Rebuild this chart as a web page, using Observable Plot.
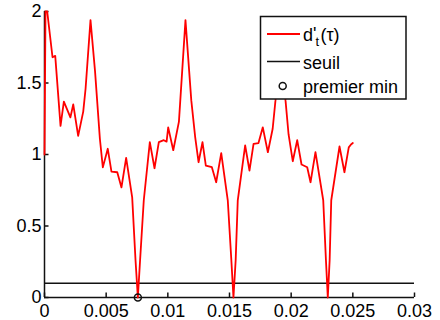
<!DOCTYPE html>
<html><head><meta charset="utf-8">
<script src="https://cdn.jsdelivr.net/npm/d3@7"></script>
<script src="https://cdn.jsdelivr.net/npm/@observablehq/plot@0.6"></script>
<style>body{margin:0;background:#fff} #chart{position:relative;width:440px;height:320px} #legend{position:absolute;left:0;top:0}</style>
</head><body><div id="chart"></div>
<script>
const tau = [0, 0.00008, 0.00022, 0.00065, 0.00087, 0.0013, 0.00157, 0.0021, 0.00233, 0.00273, 0.00314, 0.00333, 0.00373, 0.0041, 0.00449, 0.00473, 0.00513, 0.00543, 0.0059, 0.00624, 0.00662, 0.00711, 0.00738, 0.00757, 0.00775, 0.00805, 0.00854, 0.00892, 0.00927, 0.00967, 0.0099, 0.01003, 0.01044, 0.0109, 0.01143, 0.0119, 0.01222, 0.01249, 0.01281, 0.01308, 0.01357, 0.01392, 0.01433, 0.01486, 0.01515, 0.01532, 0.0155, 0.01567, 0.01627, 0.01662, 0.01695, 0.01735, 0.0177, 0.01811, 0.0185, 0.01873, 0.01914, 0.01954, 0.01979, 0.02013, 0.02049, 0.02084, 0.0213, 0.02157, 0.02197, 0.0226, 0.02282, 0.02297, 0.02312, 0.02325, 0.02392, 0.02432, 0.02467, 0.02485, 0.025];
const dprime = [1.0, 2.0, 2.0, 1.68, 1.69, 1.20, 1.37, 1.26, 1.35, 1.13, 1.30, 1.46, 1.94, 1.58, 1.11, 0.91, 1.04, 0.88, 0.876, 0.77, 0.977, 0.70, 0.26, 0, 0.26, 0.68, 1.086, 0.904, 1.086, 1.10, 1.09, 1.19, 1.03, 1.23, 1.94, 1.38, 1.12, 0.946, 1.086, 0.923, 0.911, 0.806, 1.01, 0.68, 0.26, 0, 0.26, 0.68, 1.063, 0.888, 1.075, 1.08, 1.19, 1.016, 1.18, 1.38, 1.93, 1.38, 1.14, 0.953, 1.10, 0.93, 0.911, 0.806, 1.016, 0.68, 0.26, 0, 0.26, 0.68, 1.056, 0.876, 1.05, 1.07, 1.08];
const threshold = 0.1;
const firstMin = [{t: 0.00757, v: 0}];
const xTicks = [0, 0.005, 0.01, 0.015, 0.02, 0.025, 0.03];
const xTickLabels = ["0", "0.005", "0.01", "0.015", "0.02", "0.025", "0.03"];
const yTicks = [0, 0.5, 1, 1.5, 2];
const yTickLabels = ["0", "0.5", "1", "1.5", "2"];
const legendSeuil = "seuil";
const legendMin = "premier min";

const curve = tau.map((t, i) => ({t, v: dprime[i]}));
const W = 440, H = 320, mL = 44, mR = 26, mT = 11, mB = 23;
const plotH = H - mT - mB, plotW = W - mL - mR;
const font = "'Liberation Sans', Arial, Helvetica, sans-serif";
const ink = "#111";

const chart = Plot.plot({
  width: W, height: H,
  marginLeft: mL, marginRight: mR, marginTop: mT, marginBottom: mB,
  style: {fontFamily: font, fontSize: "18px", background: "white", color: "black", overflow: "visible"},
  x: {domain: [0, 0.03]},
  y: {domain: [0, 2]},
  marks: [
    Plot.axisX(xTicks, {tickSize: 0, tickPadding: 7, fontSize: 18, label: null, tickFormat: d => xTickLabels[xTicks.indexOf(d)]}),
    Plot.axisY(yTicks, {tickSize: 0, tickPadding: 3, fontSize: 18, label: null, tickFormat: d => yTickLabels[yTicks.indexOf(d)]}),
    Plot.tickX(xTicks, {x: d => d, insetTop: plotH - 4.5, stroke: ink, strokeWidth: 1.5}),
    Plot.tickY(yTicks, {y: d => d, insetRight: plotW - 4.5, stroke: ink, strokeWidth: 1.5}),
    Plot.ruleY([0], {stroke: ink, strokeWidth: 1.5}),
    Plot.ruleX([0], {stroke: ink, strokeWidth: 1.5}),
    Plot.ruleY([threshold], {stroke: ink, strokeWidth: 1.5}),
    Plot.line(curve, {x: "t", y: "v", stroke: "#ff0000", strokeWidth: 1.8}),
    Plot.dot(firstMin, {x: "t", y: "v", r: 3.5, stroke: ink, strokeWidth: 1.5, fill: "none"})
  ]
});
const host = document.getElementById("chart");
host.append(chart);

// legend box drawn in an overlay SVG on top of the axes (MATLAB style)
const lg = d3.select(host).append("svg").attr("id", "legend").attr("width", W).attr("height", H)
  .attr("font-family", font).attr("font-size", 18).attr("text-anchor", "start");
lg.append("rect").attr("x", 260.5).attr("y", 16.5).attr("width", 145.5).attr("height", 82.5)
  .style("fill", "#ffffff").attr("stroke", ink).attr("stroke-width", 1.5);
lg.append("line").attr("x1", 267).attr("x2", 300).attr("y1", 34).attr("y2", 34).attr("stroke", "#ff0000").attr("stroke-width", 1.8);
const t1 = lg.append("text").attr("x", 303).attr("y", 40.5).attr("fill", "black");
t1.append("tspan").text("d");
t1.append("tspan").text("'").attr("dy", -1);
t1.append("tspan").text("t").attr("x", 315.5).attr("dy", 6.5).attr("font-size", 13);
t1.append("tspan").text("(τ)").attr("x", 320.5).attr("dy", -5.5);
lg.append("line").attr("x1", 267).attr("x2", 300).attr("y1", 61.5).attr("y2", 61.5).attr("stroke", ink).attr("stroke-width", 1.5);
lg.append("text").attr("x", 303).attr("y", 68.5).attr("fill", "black").text(legendSeuil);
lg.append("circle").attr("cx", 282.7).attr("cy", 86).attr("r", 3.5).attr("fill", "none").attr("stroke", ink).attr("stroke-width", 1.5);
lg.append("text").attr("x", 303).attr("y", 92.5).attr("fill", "black").text(legendMin);
</script>
</body></html>
